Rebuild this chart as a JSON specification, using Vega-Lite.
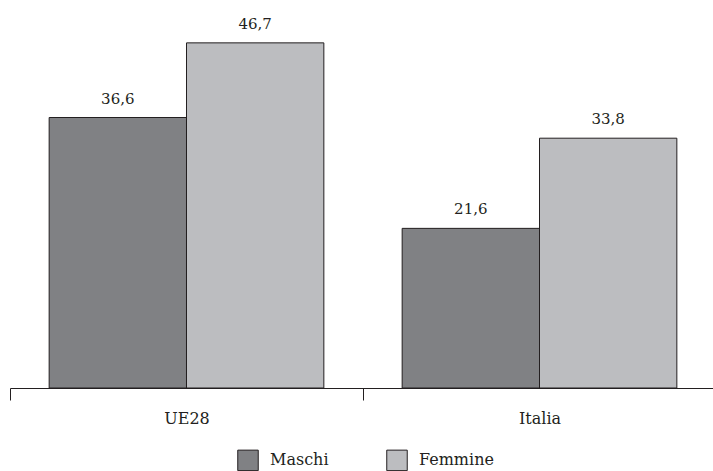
{
  "$schema": "https://vega.github.io/schema/vega-lite/v6.json",
  "width": 706,
  "height": 388,
  "autosize": "none",
  "padding": {"left": 10, "top": 0, "right": 0, "bottom": 83},
  "background": "white",
  "config": {
    "locale": {"number": {"decimal": ",", "thousands": ".", "grouping": [3], "currency": ["", " €"]}},
    "font": "DejaVu Serif",
    "view": {"stroke": null}
  },
  "data": {
    "values": [
      {"area": "UE28", "sesso": "Maschi", "valore": 36.6},
      {"area": "UE28", "sesso": "Femmine", "valore": 46.7},
      {"area": "Italia", "sesso": "Maschi", "valore": 21.6},
      {"area": "Italia", "sesso": "Femmine", "valore": 33.8}
    ]
  },
  "encoding": {
    "x": {
      "field": "area", "type": "nominal", "sort": ["UE28", "Italia"],
      "scale": {"paddingInner": 0, "paddingOuter": 0},
      "axis": {
        "title": null, "labelAngle": 0, "tickBand": "extent",
        "domainColor": "#231f20", "tickColor": "#231f20", "tickSize": 12,
        "labelFontSize": 16, "labelColor": "#231f20", "labelPadding": 10,
        "labelFont": "DejaVu Serif"
      }
    },
    "xOffset": {
      "field": "sesso", "type": "nominal", "sort": ["Maschi", "Femmine"],
      "scale": {"paddingInner": 0, "paddingOuter": 0.285}
    },
    "y": {
      "field": "valore", "type": "quantitative",
      "scale": {"domain": [0, 52.5], "nice": false},
      "axis": null
    }
  },
  "layer": [
    {
      "mark": {"type": "bar", "stroke": "#231f20", "strokeWidth": 1},
      "encoding": {
        "color": {
          "field": "sesso", "type": "nominal", "sort": ["Maschi", "Femmine"],
          "scale": {"domain": ["Maschi", "Femmine"], "range": ["#808184", "#bcbdc0"]},
          "legend": {
            "title": null, "orient": "none", "direction": "horizontal",
            "legendX": 227, "legendY": 449,
            "symbolType": "square", "symbolSize": 420, "symbolStrokeColor": "#231f20",
            "symbolStrokeWidth": 1, "labelFontSize": 16, "labelColor": "#231f20",
            "labelFont": "DejaVu Serif", "columnPadding": 55, "labelOffset": 11
          }
        }
      }
    },
    {
      "mark": {"type": "text", "baseline": "alphabetic", "dy": -14, "fontSize": 15, "color": "#231f20", "font": "DejaVu Serif"},
      "encoding": {
        "text": {"field": "valore", "type": "quantitative", "format": ".1f"}
      }
    }
  ]
}
